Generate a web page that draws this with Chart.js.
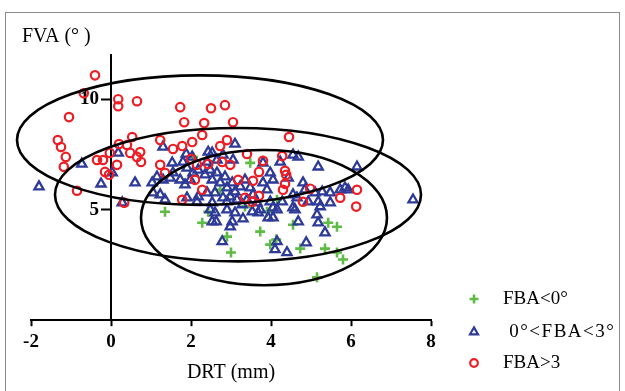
<!DOCTYPE html>
<html>
<head>
<meta charset="utf-8">
<script src="https://cdn.jsdelivr.net/npm/chart.js@4/dist/chart.umd.min.js"></script>
<style>
  html,body{margin:0;padding:0;background:#fff;}
  #wrap{position:relative;width:625px;height:391px;overflow:hidden;}
  #frame{position:absolute;left:5px;top:12px;width:615px;height:400px;border:1.5px solid #8c8c8c;border-bottom:none;box-sizing:border-box;}
  #c{position:absolute;left:0;top:0;}
</style>
</head>
<body>
<div id="wrap">
  <div id="frame"></div>
  <canvas id="c" width="625" height="391"></canvas>
</div>
<script>
// ---- data (DRT mm, FVA degrees) ----
const seriesNames = ['FBA<0°', ' 0°<FBA<3°', 'FBA>3'];
const xTicks = [-2, 0, 2, 4, 6, 8];
const yTicks = [5, 10];

const fbaNeg = [
  [1.35,4.91],[2.28,4.41],[2.43,4.91],[2.90,3.78],[3.00,3.06],[3.73,4.01],[3.98,3.42],
  [4.13,3.65],[4.73,3.24],[4.55,4.32],[5.43,4.41],[5.65,4.23],[5.35,3.24],[5.65,3.06],
  [5.80,2.75],[5.15,1.94],[3.48,7.12],[2.73,5.90],[3.90,4.91],[2.05,7.39],[4.15,5.45],[3.35,5.14]
];

const fbaMid = [
  [-1.80,6.04],[-0.73,7.07],[-0.25,6.17],[0.18,7.57],[0.60,6.22],[0.03,6.67],[0.28,5.32],
  [1.30,7.84],[1.03,6.22],[1.05,5.77],[1.15,6.49],[1.30,6.35],[1.48,6.44],[1.55,6.67],
  [1.73,6.35],[1.85,6.13],[1.98,6.35],[2.05,6.67],[2.18,6.80],[2.35,6.58],[2.48,6.80],
  [2.53,6.35],[2.65,6.67],[2.73,6.22],[2.85,6.49],[2.90,5.99],[3.03,6.22],[3.10,5.81],
  [3.23,6.04],[3.35,6.35],[3.48,5.99],[3.55,5.68],[2.98,5.59],[2.80,5.54],[2.60,5.77],
  [2.40,5.77],[1.23,5.68],[1.35,5.45],[1.90,5.54],[2.18,5.59],[2.03,7.39],[1.80,7.16],
  [1.90,6.89],[1.53,7.12],[2.40,7.16],[2.65,7.25],[2.80,7.48],[3.05,7.25],[2.53,7.57],
  [3.10,7.97],[2.43,7.61],[1.88,7.52],[3.80,7.12],[4.23,7.16],[4.55,7.48],[4.68,7.39],
  [5.18,6.94],[6.15,6.94],[7.55,5.45],[3.98,6.67],[4.05,6.35],[3.80,6.22],[3.90,5.90],
  [4.43,6.44],[4.80,6.22],[4.85,5.90],[5.10,5.77],[5.28,5.81],[5.48,5.77],[5.73,5.90],
  [5.93,5.90],[4.55,5.68],[4.65,5.54],[4.93,5.36],[5.18,5.36],[5.23,5.14],[4.55,5.09],
  [3.98,5.36],[4.05,5.09],[3.65,5.32],[3.73,5.00],[4.28,5.36],[5.48,5.32],[2.48,5.00],
  [2.60,4.86],[3.15,5.45],[3.28,5.23],[3.40,5.45],[2.90,5.00],[2.15,5.36],[2.53,5.32],
  [2.90,5.36],[2.53,4.46],[2.63,4.46],[3.10,4.86],[3.30,4.59],[2.98,4.23],[3.03,4.46],
  [3.53,4.91],[3.68,4.86],[3.93,4.64],[4.05,4.64],[4.15,5.00],[4.60,5.00],[4.68,4.46],
  [5.15,4.77],[5.18,4.41],[5.35,3.96],[2.78,3.56],[4.15,3.56],[4.10,3.20],[4.40,3.06],
  [4.88,3.51],[5.85,5.99]
];

const fbaPos = [
  [-0.40,11.08],[-0.68,10.27],[0.18,10.00],[0.18,9.68],[0.65,9.91],[-1.05,9.19],[1.73,9.64],
  [1.83,8.96],[2.50,9.59],[2.33,8.92],[2.85,9.73],[3.05,8.96],[2.28,8.38],[-1.33,8.15],
  [-1.25,7.84],[-1.13,7.39],[-1.18,6.94],[-0.85,5.86],[-0.35,7.25],[-0.20,7.25],[-0.03,7.57],
  [-0.15,6.71],[-0.05,6.58],[0.15,7.03],[0.20,7.97],[0.40,7.93],[0.53,8.29],[0.48,7.57],
  [0.65,7.39],[0.73,7.61],[0.75,7.16],[0.33,5.32],[1.23,8.15],[1.55,7.75],[1.78,7.88],
  [2.03,8.06],[1.23,7.03],[1.35,6.67],[2.15,7.03],[2.43,7.07],[2.78,7.16],[2.98,7.03],
  [2.10,6.35],[2.28,5.90],[1.78,5.45],[2.73,7.88],[2.90,8.15],[3.40,7.52],[3.18,6.35],
  [3.35,5.54],[3.53,5.36],[4.45,8.29],[4.28,7.43],[3.80,7.21],[3.70,6.71],[3.55,6.31],
  [4.35,6.76],[4.38,6.58],[4.30,5.90],[4.35,6.17],[3.70,5.63],[4.98,5.95],[4.80,5.36],
  [5.73,5.54],[6.15,5.90],[6.13,5.14],[2.00,7.30]
];

// ellipses: centre x, centre y, semi-axis x, semi-axis y (data units)
const ellipseCX = [2.225, 3.175, 3.825];
const ellipseCY = [8.15, 5.68, 4.64];
const ellipseRX = [4.575, 4.575, 3.075];
const ellipseRY = [2.93, 3.02, 3.06];

const colors = ['#5DBB46', '#2E3A97', '#EE1D23'];
const SERIF = '"Liberation Serif", "Times New Roman", serif';

const toXY = arr => arr.map(p => ({x: p[0], y: p[1]}));

const ellipsePlugin = {
  id: 'ellipses',
  afterDatasetsDraw(chart) {
    const {ctx, scales: {x, y}} = chart;
    ctx.save();
    ctx.lineWidth = 2.6;
    ctx.strokeStyle = '#000';
    for (let i = 0; i < ellipseCX.length; i++) {
      const cx = x.getPixelForValue(ellipseCX[i]);
      const cy = y.getPixelForValue(ellipseCY[i]);
      const rx = Math.abs(x.getPixelForValue(ellipseCX[i] + ellipseRX[i]) - cx);
      const ry = Math.abs(y.getPixelForValue(ellipseCY[i] + ellipseRY[i]) - cy);
      ctx.beginPath();
      ctx.ellipse(cx, cy, rx, ry, 0, 0, Math.PI * 2);
      ctx.stroke();
    }
    ctx.restore();
  }
};

const textPlugin = {
  id: 'texts',
  afterDraw(chart) {
    const {ctx, scales: {x}} = chart;
    ctx.save();
    ctx.fillStyle = '#000';
    ctx.font = '20px ' + SERIF;
    ctx.textBaseline = 'middle';
    ctx.textAlign = 'left';
    ctx.fillText('FVA (° )', 22, 37);
    ctx.textAlign = 'center';
    ctx.fillText('DRT (mm)', (x.left + x.right) / 2, 373);
    // legend
    const styles = ['cross', 'triangle', 'circle'];
    const ly = [299, 332, 363];
    const radii = [4.5, 4.6, 3.8];
    const spacing = ['0px', '1.5px', '0px'];
    ctx.textAlign = 'left';
    ctx.font = '19px ' + SERIF;
    for (let i = 0; i < 3; i++) {
      ctx.strokeStyle = colors[i];
      ctx.fillStyle = 'rgba(0,0,0,0)';
      ctx.lineWidth = i === 0 ? 2.6 : 2.2;
      Chart.helpers.drawPoint(ctx, {pointStyle: styles[i], radius: radii[i], rotation: 0, borderWidth: ctx.lineWidth}, 474, ly[i]);
      ctx.fillStyle = '#000';
      ctx.letterSpacing = spacing[i];
      ctx.fillText(seriesNames[i], 503, ly[i]);
    }
    ctx.restore();
  }
};

// y axis sits at x = 0: shift its labels left of the tick marks
function shiftYLabels(scale) {
  if (scale._shiftWrapped) return;
  const orig = scale._computeLabelItems.bind(scale);
  scale._computeLabelItems = function (area) {
    const items = orig(area);
    items.forEach(it => { it.options.translation[0] -= 12; });
    return items;
  };
  scale._shiftWrapped = true;
}

new Chart(document.getElementById('c'), {
  type: 'scatter',
  data: {
    datasets: [
      {label: seriesNames[0], data: toXY(fbaNeg), pointStyle: 'cross', pointRadius: 5, borderWidth: 2.6,
       borderColor: colors[0], backgroundColor: colors[0], order: 3},
      {label: seriesNames[1], data: toXY(fbaMid), pointStyle: 'triangle', pointRadius: 5.3, borderWidth: 2.3,
       borderColor: colors[1], backgroundColor: 'rgba(0,0,0,0)', order: 2},
      {label: seriesNames[2], data: toXY(fbaPos), pointStyle: 'circle', pointRadius: 4.2, borderWidth: 2.2,
       borderColor: colors[2], backgroundColor: 'rgba(0,0,0,0)', order: 1}
    ]
  },
  options: {
    responsive: false,
    animation: false,
    devicePixelRatio: 1,
    layout: {padding: {left: 31, right: 194, top: 55, bottom: 34}},
    plugins: {legend: {display: false}, tooltip: {enabled: false}},
    scales: {
      x: {
        type: 'linear', min: -2, max: 8, position: 'bottom',
        afterBuildTicks: s => { s.ticks = xTicks.map(v => ({value: v})); },
        grid: {drawOnChartArea: false, drawTicks: true, tickLength: 6, tickWidth: 2, tickColor: '#000'},
        border: {display: true, color: '#000', width: 2},
        ticks: {color: '#000', padding: 4, font: {family: SERIF, size: 19, weight: 'bold'}}
      },
      y: {
        type: 'linear', min: 0, max: 12, position: {x: 0},
        afterBuildTicks: s => { s.ticks = yTicks.map(v => ({value: v})); },
        afterUpdate: shiftYLabels,
        grid: {drawOnChartArea: false, drawTicks: true, tickLength: 9, tickWidth: 2, tickColor: '#000'},
        border: {display: true, color: '#000', width: 2},
        ticks: {color: '#000', padding: 2, font: {family: SERIF, size: 19, weight: 'bold'}}
      }
    }
  },
  plugins: [ellipsePlugin, textPlugin]
});
</script>
</body>
</html>
